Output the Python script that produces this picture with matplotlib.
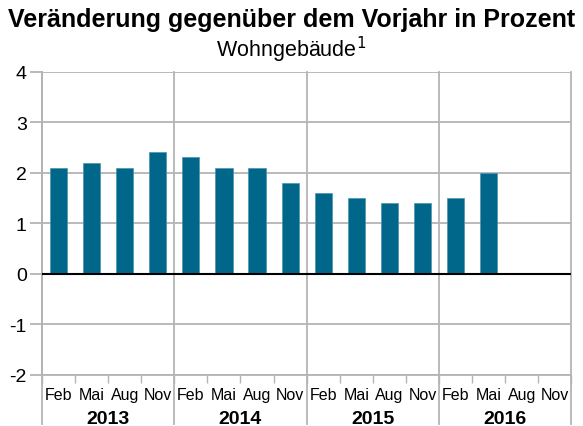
import numpy as np
import matplotlib
matplotlib.use('Agg')
import matplotlib.pyplot as plt

plt.rcParams['font.family'] = ['Liberation Sans', 'DejaVu Sans']

years = ['2013', '2014', '2015', '2016']
months = ['Feb', 'Mai', 'Aug', 'Nov']
values = [2.1, 2.2, 2.1, 2.4,
          2.3, 2.1, 2.1, 1.8,
          1.6, 1.5, 1.4, 1.4,
          1.5, 2.0, np.nan, np.nan]
bar_color = '#00678b'

fig = plt.figure(figsize=(5.83, 4.27), dpi=100)
ax = fig.add_axes([0.072, 0.12, 0.908, 0.71])

x = np.arange(len(values))
ax.bar(x, values, width=0.52, color=bar_color, edgecolor='#4a93ad', linewidth=0.5, zorder=3)

ax.set_xlim(-0.5, len(values) - 0.5)
ax.set_ylim(-2, 4)
ax.set_yticks(range(-2, 5))
ax.set_yticklabels([str(v) for v in range(-2, 5)], fontsize=14)
ax.yaxis.grid(True, color='#b4b4b4', linewidth=1.3, zorder=0)
ax.tick_params(axis='y', length=9, color='#b4b4b4', width=1.3, pad=2)
ax.axhline(0, color='black', linewidth=1.5, zorder=4)

# quarter labels
ax.set_xticks(x)
ax.set_xticklabels(months * len(years), fontsize=11.5)
ax.tick_params(axis='x', length=0, pad=9)
# minor tick marks between quarters
ax.set_xticks(np.arange(-0.5, len(values), 1), minor=True)
ax.tick_params(axis='x', which='minor', length=6, color='#b4b4b4', width=1)

ax.spines['top'].set_visible(False)
ax.spines['right'].set_visible(False)
for s in ['left', 'bottom']:
    ax.spines[s].set_color('#b4b4b4')
    ax.spines[s].set_linewidth(1.3)

# year separators
for i in range(len(years) + 1):
    xs = i * 4 - 0.5
    ax.plot([xs, xs], [4, -2.97], color='#b4b4b4', linewidth=1.3,
            clip_on=False, zorder=1)
for i, yr in enumerate(years):
    ax.text(i * 4 + 1.5, -2.86, yr, ha='center', va='center',
            fontsize=14, fontweight='bold')

fig.text(0.5, 0.953, 'Veränderung gegenüber dem Vorjahr in Prozent',
         ha='center', va='center', fontsize=18, fontweight='bold')
fig.text(0.5, 0.883, 'Wohngebäude$^1$', ha='center', va='center', fontsize=15.5)

fig.savefig('out.png', dpi=100)
